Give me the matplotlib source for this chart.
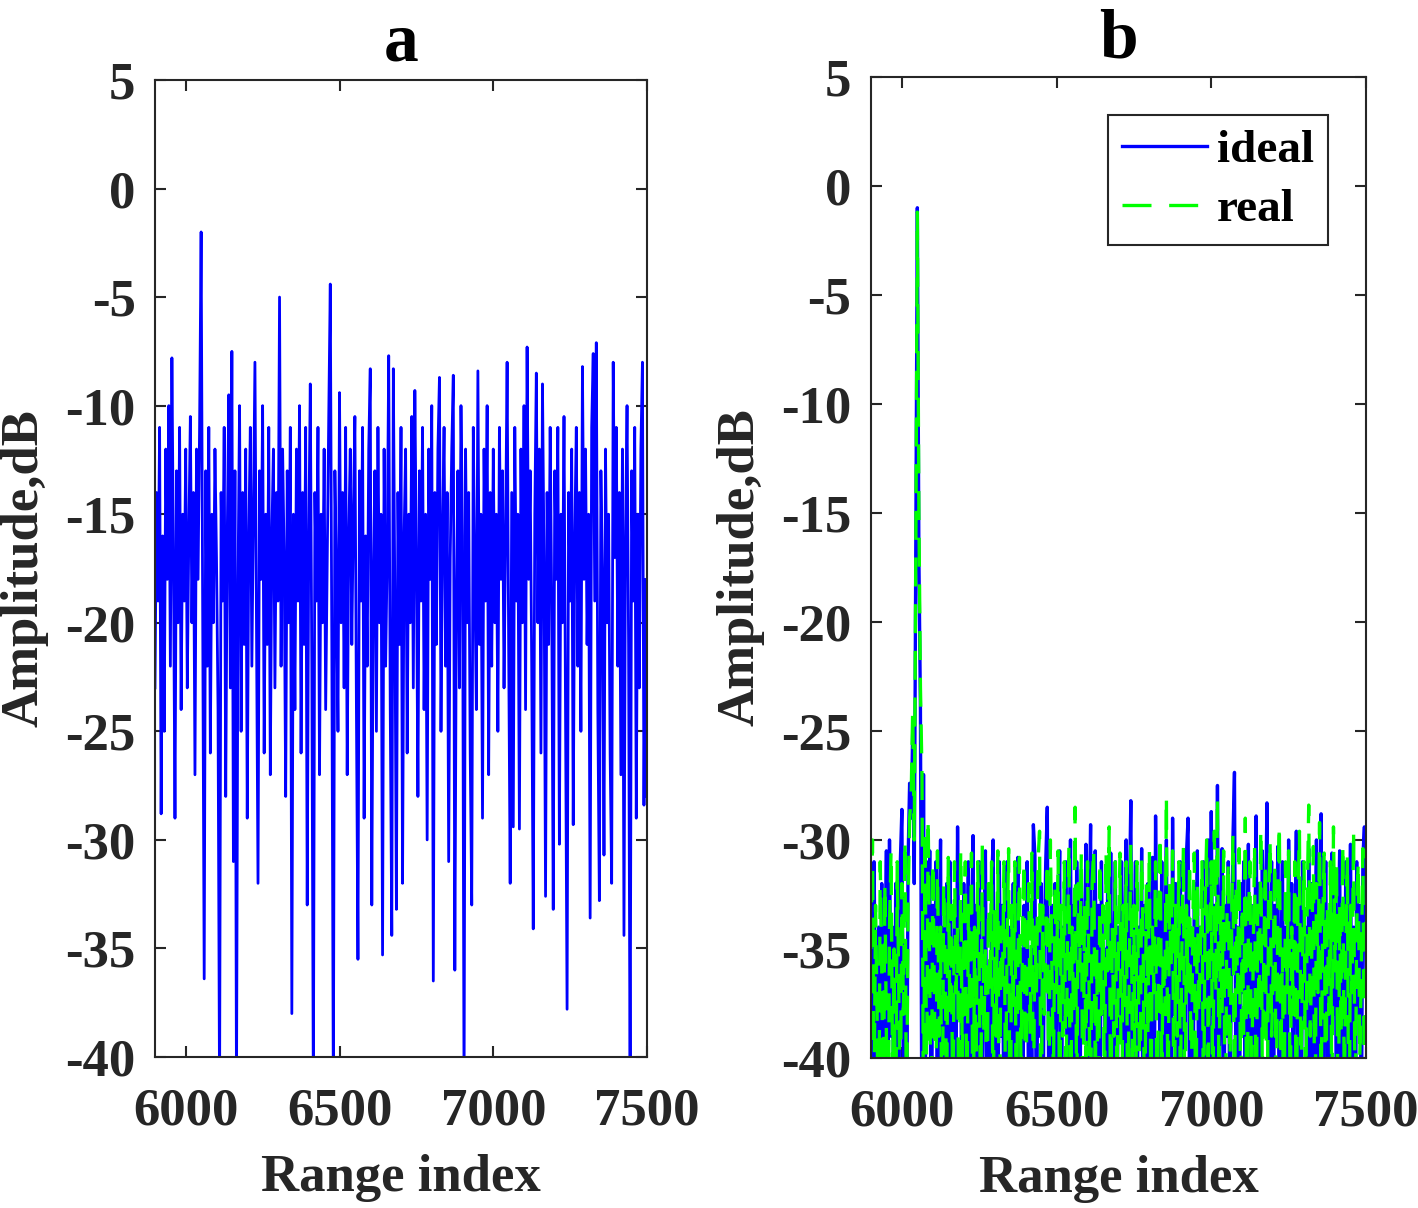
import numpy as np
import matplotlib
matplotlib.use("Agg")
import matplotlib.pyplot as plt

# range index, one sample every 5 bins from 5900 to 7500
range_start = 5900
range_step = 5

# panel a: amplitude in dB
amp_a = [
    -23, -14, -19, -11, -28.8, -16, -25, -12, -18, -10, -22, -7.8, -17, -29, -13, -20, -11, -24, -15, -19,
    -12, -23, -16, -10.5, -20, -14, -27, -12, -18, -11, -2, -19, -36.4, -13, -22, -11, -26, -15, -20, -12,
    -17, -24, -42, -14, -19, -11, -28, -16, -9.5, -23, -7.5, -31, -13, -42, -18, -10, -25, -14, -21, -12,
    -29, -16, -11, -22, -15, -8, -20, -32, -13, -18, -10, -26, -15, -21, -11, -27, -16, -12, -23, -14,
    -19, -5, -22, -12, -17, -28, -13, -20, -11, -38, -15, -24, -12, -19, -10, -26, -14, -21, -11, -33,
    -16, -9, -22, -42, -14, -19, -11, -27, -15, -20, -12, -24, -17, -10.5, -4.4, -21, -42, -13, -18, -25,
    -9.4, -20, -14, -23, -11, -27, -16, -12, -21, -15, -10.5, -24, -35.5, -13, -19, -11, -29, -16, -22, -12,
    -8.3, -33, -18, -13, -25, -11, -20, -15, -35.3, -12, -22, -17, -7.7, -24, -34.4, -8.3, -19, -33.2, -14, -21,
    -11, -32, -16, -12, -26, -15, -20, -10.5, -23, -9.3, -17, -28, -13, -19, -11, -24, -15, -30, -12, -18,
    -10, -36.5, -14, -21, -12, -8.7, -25, -16, -11, -22, -14, -31, -17, -12, -8.6, -36, -19, -13, -23, -10,
    -16, -42, -12, -20, -14, -26, -33, -11, -18, -24, -8.4, -21, -15, -29, -12, -19, -10, -27, -14, -22,
    -12, -20, -15, -25, -11, -18, -13, -23, -16, -8, -21, -32, -14, -29.4, -11, -19, -15, -29.5, -12, -20,
    -10, -24, -7.3, -18, -13, -22, -34.1, -15, -8.5, -20, -12, -26, -9, -17, -32.6, -14, -21, -11, -19, -33.2,
    -13, -18, -11, -30.2, -15, -20, -10.5, -24, -37.8, -14, -19, -12, -29.3, -16, -11, -22, -14, -25, -8.2, -18,
    -12, -21, -15, -33.6, -11, -7.6, -19, -7.1, -24, -32.8, -13, -18, -30.7, -12, -20, -15, -26, -32, -8, -17,
    -11, -22, -14, -27, -12, -34.4, -16, -10, -21, -42, -13, -19, -11, -29, -15, -23, -12, -8, -28.4, -18,
    -28,
]

# panel b: ideal and real responses in dB
amp_ideal = [
    -33, -45, -31, -38, -50, -34, -41, -32, -47, -36, -30.5, -43, -30, -39, -34, -48, -32, -37, -44, -31,
    -28.6, -42, -35, -46, -31, -27.4, -29, -25, -32, -16, -1, -17, -24, -46, -27, -44, -31, -38, -30.5, -47,
    -33, -39, -31, -45, -35, -30, -49, -34, -40, -32, -44, -31, -37, -46, -33, -41, -29.4, -38, -34, -47,
    -32, -43, -36, -31, -48, -35, -29.8, -40, -33, -45, -31, -38, -44, -34, -30.5, -42, -36, -49, -32, -30,
    -41, -35, -46, -31, -39, -33, -44, -37, -31, -48, -34, -40, -32, -45, -36, -30.8, -42, -35, -47, -33,
    -38, -31, -44, -36, -41, -29.3, -30.7, -45, -34, -39, -32, -47, -35, -31, -28.5, -43, -37, -33, -49, -32,
    -40, -35, -30.5, -46, -34, -38, -31, -44, -36, -30, -42, -33, -48, -31, -37, -45, -32, -39, -35, -30.2,
    -43, -34, -29.3, -47, -36, -30.5, -41, -33, -45, -31, -38, -35, -49, -32, -40, -30.6, -44, -36, -31, -46,
    -34, -39, -31, -43, -35, -30, -48, -33, -28.2, -42, -36, -31, -45, -34, -38, -30.4, -47, -33, -40, -32,
    -44, -35, -30.8, -46, -28.9, -37, -33, -42, -31, -49, -35, -30, -41, -34, -45, -29, -38, -32, -44, -36,
    -31, -47, -34, -39, -30.6, -29, -43, -35, -48, -32, -37, -30.5, -45, -34, -40, -31, -46, -36, -30, -42,
    -28.7, -38, -33, -45, -27.5, -41, -35, -30.4, -48, -33, -39, -31, -44, -36, -30, -26.9, -43, -34, -49, -32,
    -37, -31, -45, -35, -30.2, -42, -33, -47, -36, -28.9, -40, -32, -46, -30.5, -38, -34, -28.3, -44, -35, -31,
    -48, -33, -39, -30.3, -45, -36, -31, -42, -34, -47, -30, -37, -32, -44, -35, -29.6, -41, -33, -49, -31,
    -38, -34, -45, -30.4, -40, -32, -47, -35, -30, -43, -33, -28.8, -46, -36, -31, -41, -34, -48, -30.6, -38,
    -32, -44, -35, -30.5, -47, -33, -39, -31, -45, -36, -30.2, -42, -34, -49, -31, -38, -33, -44, -30.8, -29.4,
    -36,
]

amp_real = [
    -35, -30, -42, -33, -38, -46, -31, -36, -44, -32, -39, -47, -34, -30.5, -41, -35, -45, -31, -37, -43,
    -32, -38, -30, -44, -33, -29, -28, -24, -30, -17, -1.2, -15, -23, -27, -44, -29.5, -41, -29, -36, -45,
    -31, -37, -43, -30.5, -39, -34, -46, -32, -36, -42, -30.8, -38, -33, -45, -31, -37, -34, -47, -30.5, -40,
    -35, -31, -44, -33, -38, -30.6, -46, -34, -41, -31, -36, -43, -30.2, -39, -35, -45, -32, -37, -31, -44,
    -33, -39, -30.5, -46, -34, -37, -31, -42, -35, -30.4, -47, -33, -38, -31, -44, -36, -30.8, -41, -34, -31,
    -45, -35, -32, -39, -30.6, -43, -34, -37, -31, -29.6, -46, -33, -38, -35, -31, -44, -30, -36, -41, -32,
    -37, -30.5, -45, -33, -39, -31, -42, -35, -30.2, -47, -34, -38, -28.5, -43, -32, -36, -30.6, -45, -33, -40,
    -31, -37, -44, -32, -30.4, -41, -35, -46, -31, -38, -33, -43, -30.5, -36, -29.4, -45, -34, -39, -31, -42,
    -35, -30.6, -47, -33, -38, -31, -44, -36, -30.2, -40, -33, -46, -31, -37, -42, -30.8, -35, -45, -32, -39,
    -30.4, -43, -34, -37, -31, -46, -33, -29.8, -41, -35, -38, -28, -44, -32, -36, -30.5, -47, -33, -39, -31,
    -42, -35, -30.3, -45, -33, -37, -31, -43, -34, -30.6, -46, -32, -38, -35, -31, -44, -33, -30, -40, -36,
    -31, -45, -29.6, -37, -28, -42, -33, -38, -30.5, -46, -34, -31, -41, -35, -29.8, -44, -32, -37, -30.4, -43,
    -33, -39, -29, -46, -34, -31, -42, -36, -30.2, -45, -33, -38, -29.5, -41, -35, -31, -47, -33, -30, -39,
    -36, -31, -44, -33, -29.3, -40, -35, -46, -31, -37, -30.5, -43, -34, -38, -31, -45, -33, -29.6, -41, -36,
    -31, -44, -33, -28.4, -39, -35, -30.3, -46, -32, -37, -29.2, -42, -34, -30.6, -45, -33, -38, -31, -43, -29.4,
    -36, -31, -46, -33, -39, -30.2, -42, -35, -30.8, -47, -33, -37, -29.5, -44, -34, -31, -40, -36, -30.4, -43,
    -33,
]

x_ticks = [6000, 6500, 7000, 7500]
y_ticks = [-40, -35, -30, -25, -20, -15, -10, -5, 0, 5]
titles = ["a", "b"]

plt.rcParams["font.family"] = ["Liberation Serif", "DejaVu Serif"]
plt.rcParams["font.weight"] = "bold"
plt.rcParams["axes.unicode_minus"] = False

text_col = "#262626"


def style_axes(ax, title):
    ax.set_xlim(5900, 7500)
    ax.set_ylim(-40, 5)
    ax.set_xticks(x_ticks)
    ax.set_yticks(y_ticks)
    ax.tick_params(direction="in", length=8, width=1.5, top=True, right=True,
                   labelsize=38, colors=text_col)
    ax.tick_params(axis="x", pad=22)
    ax.tick_params(axis="y", pad=14)
    for s in ax.spines.values():
        s.set_linewidth(1.5)
        s.set_color(text_col)
    ax.set_xlabel("Range index", fontsize=38, fontweight="bold", color=text_col, labelpad=13)
    ax.set_ylabel("Amplitude,dB", fontsize=38, fontweight="bold", color=text_col, labelpad=12)
    ax.set_title(title, fontsize=50, fontweight="bold", pad=14)


def main():
    x_a = range_start + range_step * np.arange(len(amp_a))
    x_b = range_start + range_step * np.arange(len(amp_ideal))

    fig = plt.figure(figsize=(14.18, 12.08), dpi=100)
    ax1 = fig.add_axes([0.1093, 0.1250, 0.3470, 0.8088])
    ax2 = fig.add_axes([0.6142, 0.1242, 0.3491, 0.8121])

    ax1.plot(x_a, amp_a, color="#0000ff", lw=2.0)
    style_axes(ax1, titles[0])

    ax2.plot(x_b, amp_ideal, color="#0000ff", lw=2.4, label="ideal")
    ax2.plot(x_b, amp_real, color="#00ff00", lw=2.4, linestyle=(0, (8.7, 5.3)), label="real")
    style_axes(ax2, titles[1])

    leg = ax2.legend(loc="upper right", bbox_to_anchor=(0.923, 0.961), borderaxespad=0,
                     fancybox=False, framealpha=1, edgecolor=text_col,
                     prop={"size": 34, "weight": "bold"}, handlelength=1.8,
                     handletextpad=0.2, borderpad=0.3, labelspacing=0.33)
    leg.get_frame().set_linewidth(1.5)

    fig.savefig("out.png", dpi=100)
    plt.close(fig)


if __name__ == '__main__':
    main()
